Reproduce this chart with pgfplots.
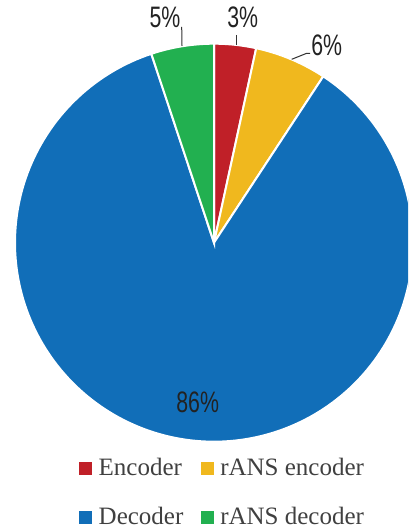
\documentclass[border=0pt]{standalone}
\usepackage{fontspec}
\setmainfont{Liberation Serif}
\newfontfamily\labelfont{Liberation Sans}
\usepackage{graphicx}
\usepackage{pgfplots}
\pgfplotsset{compat=1.18}
\definecolor{cEnc}{RGB}{192,32,40}
\definecolor{cRenc}{RGB}{240,184,30}
\definecolor{cDec}{RGB}{17,110,184}
\definecolor{cRdec}{RGB}{34,176,80}
\definecolor{txt}{RGB}{64,64,64}
\definecolor{lbl}{RGB}{34,34,34}
% slice values (percent)
\def\vEnc{3.4}\def\vRenc{5.85}\def\vDec{85.65}\def\vRdec{5.1}
\pgfmathsetmacro\aA{90}
\pgfmathsetmacro\aB{\aA-3.6*\vEnc}
\pgfmathsetmacro\aC{\aB-3.6*\vRenc}
\pgfmathsetmacro\aD{\aC-3.6*\vDec}
\pgfmathsetmacro\aE{\aD-3.6*\vRdec}
\def\cx{214}\def\cy{285.3}\def\rr{199}
\newcommand{\pctlabel}[1]{{\labelfont\fontsize{14.8}{17}\selectfont\scalebox{0.72}[1]{#1}}}
\begin{document}
\begin{tikzpicture}
\begin{axis}[
  x=0.5pt, y=0.5pt,
  xmin=0, xmax=408, ymin=0, ymax=528,
  hide axis, clip=true,
  legend columns=2,
  legend image code/.code={\fill[#1,draw=none] (0pt,-3.3pt) rectangle (6.35pt,3.05pt);},
  legend style={draw=none, fill=none, at={(axis cs:79,70)}, anchor=north west,
    font=\fontsize{12.5}{14}\selectfont, text=txt, inner sep=0pt, row sep=14pt,
    nodes={inner sep=0pt},
    /tikz/every odd column/.append style={column sep=3.3pt},
    /tikz/every even column/.append style={column sep=8.8pt}},
  legend cell align=left,
]
\addplot[fill=cEnc, draw=white, line width=1pt, domain=\aB:\aA, samples=20]
  ({\cx+\rr*cos(x)},{\cy+\rr*sin(x)}) -- (axis cs:\cx,\cy) -- cycle;
\addlegendentry{Encoder}
\addplot[fill=cRenc, draw=white, line width=1pt, domain=\aC:\aB, samples=30]
  ({\cx+\rr*cos(x)},{\cy+\rr*sin(x)}) -- (axis cs:\cx,\cy) -- cycle;
\addlegendentry{rANS encoder}
\addplot[fill=cDec, draw=white, line width=1pt, domain=\aD:\aC, samples=200]
  ({\cx+\rr*cos(x)},{\cy+\rr*sin(x)}) -- (axis cs:\cx,\cy) -- cycle;
\addlegendentry{Decoder}
\addplot[fill=cRdec, draw=white, line width=1pt, domain=\aE:\aD, samples=20]
  ({\cx+\rr*cos(x)},{\cy+\rr*sin(x)}) -- (axis cs:\cx,\cy) -- cycle;
\addlegendentry{rANS decoder}
% leader lines
\addplot[forget plot, black!80, line width=0.5pt] coordinates {(181.7,501) (182,482)};
\addplot[forget plot, black!80, line width=0.5pt] coordinates {(236,493) (236,483)};
\addplot[forget plot, black!80, line width=0.5pt] coordinates {(291.7,468.7) (306.7,474.7) (310,474.7)};
% labels
\node[text=lbl, inner sep=0pt] at (axis cs:165,511) {\pctlabel{5\%}};
\node[text=lbl, inner sep=0pt] at (axis cs:242.7,511) {\pctlabel{3\%}};
\node[text=lbl, inner sep=0pt] at (axis cs:326.7,483) {\pctlabel{6\%}};
\node[text=lbl, inner sep=0pt] at (axis cs:197.7,125.7) {\pctlabel{86\%}};
\end{axis}
\pgfresetboundingbox
\useasboundingbox (current axis.south west) rectangle (current axis.north east);
\end{tikzpicture}
\end{document}
